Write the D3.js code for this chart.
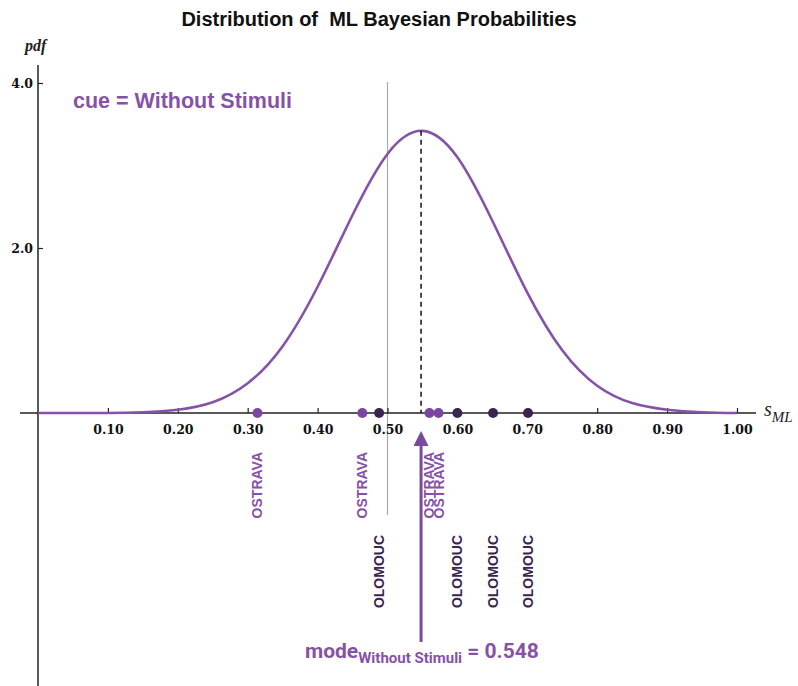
<!DOCTYPE html>
<html>
<head>
<meta charset="utf-8">
<script src="https://cdn.jsdelivr.net/npm/d3@7"></script>
<style>
  body { margin: 0; background: #fff; }
  svg { display: block; }
</style>
</head>
<body>
<div id="chart"></div>
<script>
// pdf curve
var curveX = [0.00, 0.05, 0.10, 0.15, 0.20, 0.25, 0.30, 0.35, 0.40, 0.45, 0.50, 0.55, 0.60, 0.65, 0.70, 0.75, 0.80, 0.85, 0.90, 0.95, 1.00];
var curveY = [0.00, 0.00, 0.00, 0.01, 0.04, 0.13, 0.36, 0.81, 1.53, 2.40, 3.14, 3.42, 3.10, 2.33, 1.46, 0.76, 0.33, 0.12, 0.04, 0.01, 0.00];

// individual estimates on the axis
var pointValues = [0.314, 0.464, 0.488, 0.560, 0.573, 0.600, 0.651, 0.701];
var pointCities = ["OSTRAVA", "OSTRAVA", "OLOMOUC", "OSTRAVA", "OSTRAVA", "OLOMOUC", "OLOMOUC", "OLOMOUC"];

var xTicks = [0.10, 0.20, 0.30, 0.40, 0.50, 0.60, 0.70, 0.80, 0.90, 1.00];
var yTicks = [2.0, 4.0];
var modeValue = 0.548;
var modePdf = 3.42;
var refLine = 0.5;

var width = 798, height = 686;
var purple = "#8652a8", dark = "#3a2552";

var svg = d3.select("#chart").append("svg")
    .attr("width", width)
    .attr("height", height);

var x = d3.scaleLinear().domain([0, 1]).range([38, 737]);
var y = d3.scaleLinear().domain([0, 4]).range([413, 83]);

// title
svg.append("text")
    .attr("x", 379).attr("y", 26)
    .attr("text-anchor", "middle")
    .style("font-family", "Liberation Sans, Arial, sans-serif")
    .style("font-weight", "bold")
    .style("font-size", "20px")
    .style("fill", "#111")
    .text("Distribution of \u00a0ML Bayesian Probabilities");

// grey reference line at 0.5
svg.append("line")
    .attr("x1", x(refLine)).attr("x2", x(refLine))
    .attr("y1", 82).attr("y2", 515)
    .style("stroke", "#aaa").style("stroke-width", 1.2);

// axes
var xAxis = svg.append("g").attr("transform", "translate(0," + y(0) + ")")
    .call(d3.axisBottom(x).tickValues(xTicks).tickSize(-5).tickPadding(10).tickFormat(d3.format(".2f")));
xAxis.select(".domain").attr("d", "M20,0H756");

var yAxis = svg.append("g").attr("transform", "translate(" + x(0) + ",0)")
    .call(d3.axisLeft(y).tickValues(yTicks).tickSize(-5).tickPadding(6).tickFormat(d3.format(".1f")));
yAxis.select(".domain").attr("d", "M0,65V686");

svg.selectAll(".tick text")
    .style("font-family", "DejaVu Serif, serif")
    .style("font-weight", "bold")
    .style("font-size", "12.5px")
    .style("fill", "#111");
svg.selectAll(".domain").style("stroke", "#222").style("stroke-width", 1.5);
svg.selectAll(".tick line").style("stroke", "#222").style("stroke-width", 1.2);
xAxis.selectAll(".tick text").attr("dy", "0.9em");
yAxis.selectAll(".tick text").attr("x", -5);

// axis labels
svg.append("text")
    .attr("x", 25).attr("y", 51)
    .style("font-family", "Liberation Serif, Times New Roman, serif")
    .style("font-style", "italic").style("font-weight", "bold")
    .style("font-size", "16px").style("fill", "#222")
    .text("pdf");

var sLab = svg.append("text")
    .attr("x", 764).attr("y", 416)
    .style("font-family", "Liberation Serif, Times New Roman, serif")
    .style("font-style", "italic")
    .style("fill", "#222");
sLab.append("tspan").style("font-size", "20px").text("s");
sLab.append("tspan").attr("dy", 6).style("font-size", "15px").text("ML");

// legend text
svg.append("text")
    .attr("x", 73).attr("y", 108)
    .style("font-family", "Liberation Sans, Arial, sans-serif")
    .style("font-weight", "bold")
    .style("font-size", "21.5px")
    .style("fill", purple)
    .text("cue = Without Stimuli");

// pdf curve
var line = d3.line()
    .x(function(d, i){ return x(curveX[i]); })
    .y(function(d){ return y(d); })
    .curve(d3.curveNatural);

svg.append("path")
    .datum(curveY)
    .attr("d", line)
    .style("fill", "none")
    .style("stroke", purple)
    .style("stroke-width", 2.6);

// dashed line at the mode
svg.append("line")
    .attr("x1", x(modeValue)).attr("x2", x(modeValue))
    .attr("y1", y(modePdf)).attr("y2", y(0))
    .style("stroke", "#111").style("stroke-width", 1.5)
    .style("stroke-dasharray", "5,4");

// points
svg.selectAll("circle.pt").data(pointValues).enter().append("circle")
    .attr("class", "pt")
    .attr("cx", function(d){ return x(d); })
    .attr("cy", y(0))
    .attr("r", 5)
    .style("fill", function(d, i){ return pointCities[i] == "OSTRAVA" ? "#7b46a0" : dark; });

// city labels, rotated
svg.selectAll("text.city").data(pointValues).enter().append("text")
    .attr("class", "city")
    .attr("transform", function(d, i){
        var top = pointCities[i] == "OSTRAVA" ? 452 : 535;
        return "translate(" + (x(d) + 5) + "," + top + ") rotate(-90)";
    })
    .attr("text-anchor", "end")
    .style("font-family", "Liberation Sans, Arial, sans-serif")
    .style("font-weight", "bold")
    .style("font-size", "14px")
    .style("fill", function(d, i){ return pointCities[i] == "OSTRAVA" ? purple : dark; })
    .text(function(d, i){ return pointCities[i]; });

// arrow to the mode
var defs = svg.append("defs");
defs.append("marker")
    .attr("id", "arrowHead")
    .attr("viewBox", "0 0 10 10")
    .attr("refX", 0).attr("refY", 5)
    .attr("markerWidth", 5).attr("markerHeight", 5)
    .attr("markerUnits", "strokeWidth")
    .attr("orient", "auto")
    .append("path")
    .attr("d", "M0,0 L10,5 L0,10 z")
    .style("fill", "#7a4a9c");

svg.append("line")
    .attr("x1", x(modeValue)).attr("x2", x(modeValue))
    .attr("y1", 642).attr("y2", 446)
    .style("stroke", "#7a4a9c").style("stroke-width", 3)
    .attr("marker-end", "url(#arrowHead)");

// mode label
var mLab = svg.append("text")
    .attr("x", 305).attr("y", 658)
    .style("font-family", "Roboto, Liberation Sans, sans-serif")
    .style("font-weight", "bold")
    .style("fill", purple);
mLab.append("tspan").style("font-size", "21px").text("mode");
mLab.append("tspan").attr("dy", 5).style("font-size", "15px").text("Without Stimuli");
mLab.append("tspan").attr("dy", -5).style("font-size", "21px").text(" = " + modeValue.toFixed(3));
</script>
</body>
</html>
